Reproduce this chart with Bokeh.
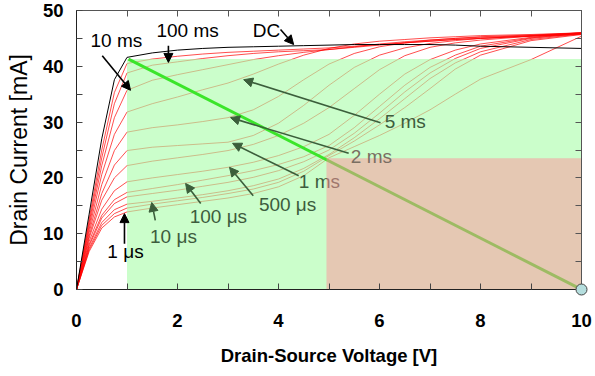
from bokeh.plotting import figure
from bokeh.models import Range1d, FixedTicker, LinearAxis, Arrow, NormalHead, ColumnDataSource
from bokeh.core.properties import value
from bokeh.embed import file_html
from bokeh.resources import INLINE

# ---------------- data ----------------
v = [0, 0.25, 0.5, 0.75, 1, 1.5, 2, 2.5, 3, 3.5, 4, 4.5, 5, 5.5, 6, 6.5, 7, 7.5, 8, 9, 10]

i_1us   = [0, 6.8, 11.0, 13.0, 13.9, 14.6, 15.2, 15.8, 16.4, 17.2, 18.4, 20.4, 23.6, 25.6, 27.6, 29.8, 32.2, 35.0, 37.7, 41.2, 45.4]
i_5us   = [0, 7.1, 11.5, 13.6, 14.6, 15.3, 15.9, 16.5, 17.2, 18.0, 19.2, 21.2, 24.0, 26.6, 29.5, 32.6, 36.0, 39.5, 42.0, 44.6, 45.7]
i_10us  = [0, 7.4, 12.0, 14.3, 15.3, 15.8, 16.4, 17.0, 17.7, 18.6, 19.8, 21.7, 24.2, 27.2, 30.6, 34.2, 37.8, 40.6, 42.6, 44.8, 45.8]
i_50us  = [0, 7.8, 12.8, 15.4, 16.6, 17.2, 17.8, 18.5, 19.2, 20.1, 21.3, 22.9, 25.0, 28.0, 31.6, 35.4, 38.8, 41.4, 43.2, 45.0, 45.9]
i_100us = [0, 8.1, 13.3, 16.1, 17.4, 18.1, 18.8, 19.6, 20.4, 21.3, 22.4, 23.8, 25.8, 29.0, 32.8, 36.6, 39.8, 42.0, 43.6, 45.1, 45.9]
i_500us = [0, 8.6, 14.4, 17.7, 19.3, 20.0, 20.6, 21.2, 21.9, 22.8, 24.0, 25.6, 27.8, 31.2, 35.0, 38.6, 41.2, 42.9, 44.0, 45.2, 46.0]
i_700us = [0, 9.2, 16.0, 20.0, 22.2, 23.0, 23.6, 24.2, 24.9, 26.0, 27.6, 29.8, 32.6, 36.0, 39.4, 41.9, 43.4, 44.2, 44.7, 45.4, 46.0]
i_1ms   = [0, 9.6, 17.2, 22.3, 24.9, 25.5, 25.8, 26.1, 26.4, 27.6, 29.8, 33.0, 36.6, 39.8, 42.0, 43.3, 44.1, 44.6, 45.0, 45.5, 46.0]
i_2ms   = [0, 10.2, 18.8, 24.9, 28.2, 29.0, 29.5, 30.1, 30.8, 32.2, 34.6, 37.6, 40.4, 42.3, 43.5, 44.2, 44.7, 45.0, 45.3, 45.6, 46.0]
i_5ms   = [0, 10.8, 20.6, 27.8, 31.8, 33.3, 34.5, 35.8, 37.0, 38.6, 40.4, 42.0, 43.2, 44.0, 44.5, 44.8, 45.1, 45.3, 45.5, 45.7, 46.0]
i_10ms  = [0, 11.4, 22.2, 30.8, 35.7, 37.5, 38.5, 39.4, 40.3, 41.2, 41.9, 42.5, 43.0, 43.5, 44.0, 44.4, 44.7, 45.0, 45.2, 45.5, 45.9]
i_100ms = [0, 12.0, 23.6, 33.3, 38.8, 40.2, 40.8, 41.4, 41.9, 42.3, 42.6, 42.8, 43.0, 43.4, 43.8, 44.2, 44.5, 44.8, 45.0, 45.4, 45.8]
i_1s    = [0, 12.6, 25.0, 35.3, 40.5, 41.3, 41.8, 42.2, 42.5, 42.7, 42.9, 43.1, 43.3, 43.6, 43.9, 44.2, 44.5, 44.8, 45.0, 45.4, 45.7]
i_dc    = [0, 13.5, 27.0, 37.6, 41.6, 42.4, 42.9, 43.2, 43.4, 43.5, 43.6, 43.7, 43.8, 43.9, 43.9, 43.9, 43.9, 43.8, 43.6, 43.4, 43.2]

pulse_curves = [i_1us, i_5us, i_10us, i_50us, i_100us, i_500us, i_700us,
                i_1ms, i_2ms, i_5ms, i_10ms, i_100ms, i_1s]

# safe operating area bounds
soa_v_min, soa_v_max, soa_i_max = 1.0, 10.0, 41.3
hot_v_min, hot_i_max = 4.95, 23.5
# load line
load_v = [1.03, 10.0]
load_i = [41.3, 0.0]
op_v, op_i = [10.0], [0.0]

# annotation labels
lab_text  = ["1 μs", "10 μs", "100 μs", "500 μs", "2 ms", "5 ms", "10 ms", "100 ms", "DC"]
lab_x     = [0.97, 1.92, 2.81, 4.18, 5.84, 6.51, 0.79, 2.20, 3.76]
lab_y     = [6.8, 9.5, 13.1, 15.2, 23.8, 30.1, 44.6, 46.4, 46.4]
lab_color = ["black", "#3d5c3d", "#3d5c3d", "#3d5c3d", "#7a6e62", "#3d5c3d", "black", "black", "black"]
lab1ms_text, lab1ms_x, lab1ms_y = ["1 ms"], [4.81], [19.4]

# arrows: tail -> tip
arr_x0 = [0.95, 1.56, 2.46, 3.50, 4.40, 5.39, 6.02, 0.51, 1.82, 4.04]
arr_y0 = [8.2, 12.4, 15.4, 16.8, 20.4, 24.4, 29.9, 41.9, 43.7, 46.6]
arr_x1 = [0.95, 1.49, 2.16, 3.03, 3.09, 3.05, 3.31, 1.07, 1.82, 4.30]
arr_y1 = [13.6, 15.6, 19.0, 21.9, 26.2, 30.8, 37.6, 35.7, 40.7, 43.9]
arr_col = ["black", "#3b5e3b", "#3b5e3b", "#3b5e3b", "#3b5e3b", "#3b5e3b", "#3b5e3b", "black", "black", "black"]

x_ticks = [0, 2, 4, 6, 8, 10]
x_minor = [1, 3, 5, 7, 9]
y_ticks = [0, 10, 20, 30, 40, 50]
y_minor = [5, 15, 25, 35, 45]

FONT = "Liberation Sans"

# ---------------- figure ----------------
p = figure(width=595, height=376, output_backend="svg", toolbar_location=None,
           x_range=Range1d(0, 10), y_range=Range1d(0, 50),
           min_border_left=76, min_border_right=14, min_border_top=10, min_border_bottom=87)
p.grid.visible = False
p.outline_line_color = "#444444"
p.background_fill_color = "white"
p.border_fill_color = "white"

for ax, tk, mn in ((p.xaxis[0], x_ticks, x_minor), (p.yaxis[0], y_ticks, y_minor)):
    ax.ticker = FixedTicker(ticks=tk, minor_ticks=mn)
    ax.major_tick_in = 6
    ax.major_tick_out = 0
    ax.minor_tick_in = 6
    ax.minor_tick_out = 0
    ax.axis_line_color = "#222222"
    ax.major_tick_line_color = "#444444"
    ax.minor_tick_line_color = "#444444"
    ax.major_label_text_font = FONT
    ax.major_label_text_font_style = "bold"
    ax.major_label_text_font_size = "18.5px"
    ax.major_label_text_color = "black"
    ax.axis_label_text_font = FONT
    ax.axis_label_text_color = "black"

p.xaxis.axis_label = "Drain-Source Voltage [V]"
p.xaxis.axis_label_text_font_style = "bold"
p.xaxis.axis_label_text_font_size = "18.5px"
p.xaxis.major_label_standoff = 24
p.xaxis.axis_label_standoff = 15

p.yaxis.axis_label = "Drain Current [mA]"
p.yaxis.axis_label_text_font_style = "normal"
p.yaxis.axis_label_text_font_size = "23px"
p.yaxis.major_label_standoff = 13
p.yaxis.axis_label_standoff = 8

for loc, tk, mn in (("above", x_ticks, x_minor), ("right", y_ticks, y_minor)):
    ax = LinearAxis(ticker=FixedTicker(ticks=tk, minor_ticks=mn))
    ax.major_tick_in = 6
    ax.major_tick_out = 0
    ax.minor_tick_in = 6
    ax.minor_tick_out = 0
    ax.major_label_text_font_size = "1px"
    ax.major_label_text_color = None
    ax.major_label_standoff = 0
    ax.axis_line_color = "#555555"
    ax.major_tick_line_color = "#555555"
    ax.minor_tick_line_color = "#555555"
    p.add_layout(ax, loc)

# curves
for c in pulse_curves:
    p.line(v, c, line_color="#ff0000", line_width=0.7)
p.line(v, i_dc, line_color="black", line_width=1)

# SOA green region (translucent over curves)
p.quad(left=[soa_v_min], right=[soa_v_max], bottom=[0], top=[soa_i_max],
       fill_color="#adfead", fill_alpha=0.63, line_color=None)

# load line
p.line(load_v, load_i, line_color="#3be52a", line_width=3)

# label partly covered by hot region
p.text(x=lab1ms_x, y=lab1ms_y, text=lab1ms_text, text_font=value(FONT),
       text_font_size=value("19px"), text_align="center", text_baseline="middle",
       text_color="#3d5c3d")

# hot region (translucent brown)
p.quad(left=[hot_v_min], right=[soa_v_max], bottom=[0], top=[hot_i_max],
       fill_color="#ff919c", fill_alpha=0.5, line_color=None)

src = ColumnDataSource(dict(x=lab_x, y=lab_y, t=lab_text, c=lab_color))
p.text(x="x", y="y", text="t", source=src, text_font=value(FONT),
       text_font_size=value("19px"), text_align="center", text_baseline="middle",
       text_color="c")

for x0, y0, x1, y1, col in zip(arr_x0, arr_y0, arr_x1, arr_y1, arr_col):
    p.add_layout(Arrow(x_start=x0, y_start=y0, x_end=x1, y_end=y1,
                       line_color=col, line_width=1.6,
                       end=NormalHead(size=9, fill_color=col, line_color=col)))

p.scatter(op_v, op_i, marker="circle", size=11, fill_color="#b5dede",
          line_color="#444444", line_width=1, level="overlay")

open("out.html", "w").write(file_html(p, INLINE))
